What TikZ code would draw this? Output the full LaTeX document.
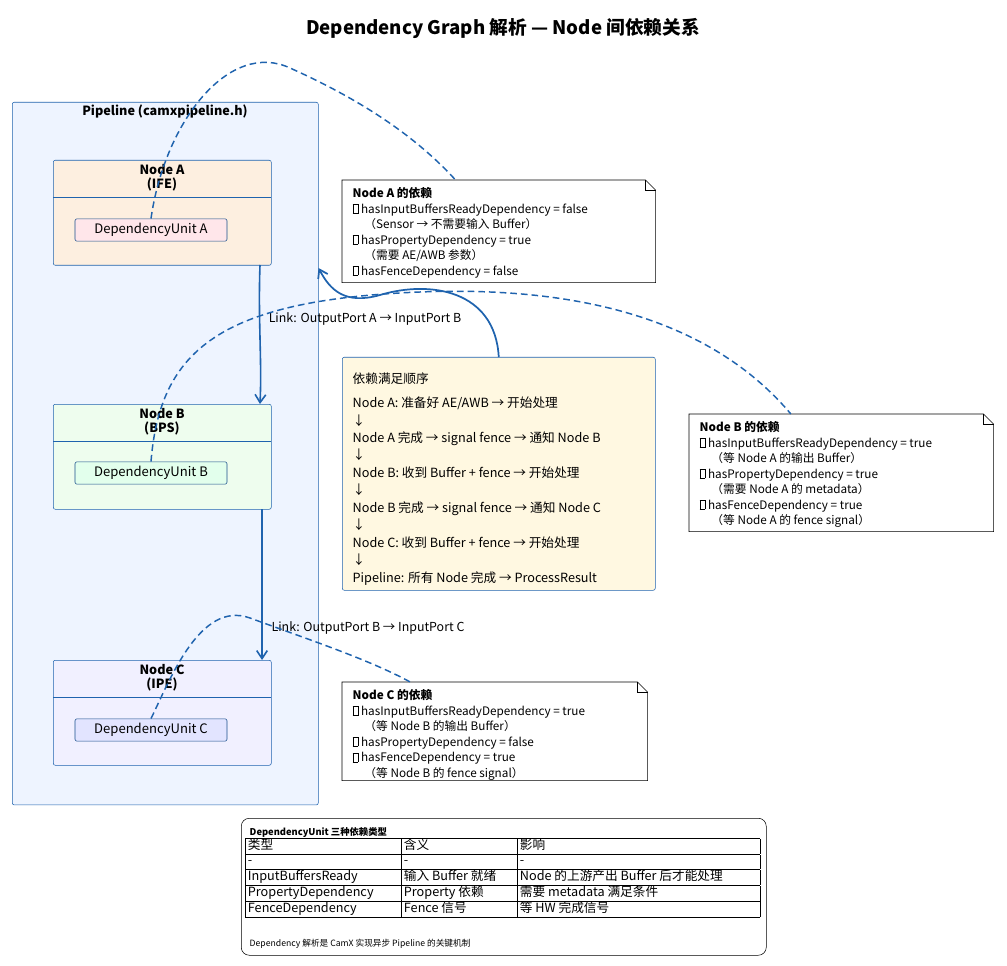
\documentclass[tikz,border=0pt]{standalone}
\usepackage{fontspec}
\setmainfont{Noto Sans CJK SC}
\usetikzlibrary{arrows.meta,positioning}
\definecolor{edgeblue}{HTML}{1F63AE}
\definecolor{pipefill}{HTML}{EEF4FF}
\definecolor{afill}{HTML}{FDEFE0}
\definecolor{bfill}{HTML}{EEFDEE}
\definecolor{cfill}{HTML}{F1F0FF}
\definecolor{aunit}{HTML}{FFE6EA}
\definecolor{bunit}{HTML}{E2FFEC}
\definecolor{cunit}{HTML}{E2E4FF}
\definecolor{yellowfill}{HTML}{FFF8E1}
\newcommand\missing{{\setlength\fboxsep{0pt}\setlength\fboxrule{0.4pt}\fbox{\vphantom{X}\hspace{3.5pt}}}}
\tikzset{
  nodebox/.style={draw=edgeblue, rounded corners=1.5pt, minimum width=163.5pt, minimum height=78.75pt, anchor=north west},
  unitbox/.style={draw=edgeblue!80!black, rounded corners=1.5pt, minimum width=114pt, minimum height=16.5pt, font=\fontsize{9.8}{11}\selectfont},
  notebox/.style={anchor=north west, inner sep=0pt},
  notetext/.style={anchor=north west, align=left, font=\fontsize{8.8}{11.6}\selectfont},
  link/.style={draw=edgeblue, line width=1.2pt, -{Straight Barb[length=6pt,width=8pt]}},
  dep/.style={draw=edgeblue, line width=1.1pt, dashed, dash pattern=on 5pt off 3pt},
}
\begin{document}
\begin{tikzpicture}[x=0.75pt,y=-0.75pt]
\useasboundingbox (0,0) rectangle (1007,966);
\node[font=\fontsize{14}{16}\bfseries] (title) at (503,28) {Dependency Graph 解析 — Node 间依赖关系};

% pipeline cluster
\node[draw=edgeblue, fill=pipefill, rounded corners=1.5pt, minimum width=229.5pt, minimum height=527pt, anchor=north west] (pipe) at (12,102) {};
\node[font=\fontsize{9.5}{11}\bfseries] (pipetitle) at (165,111) {Pipeline (camxpipeline.h)};

% nodes
\node[nodebox, fill=afill] (nA) at (53,160) {};
\node[font=\fontsize{9.5}{10.5}\bfseries, align=center] at (162,178) {Node A\\(IFE)};
\draw[edgeblue] (53,197) -- (271,197);
\node[unitbox, fill=aunit] (uA) at (151,230) {DependencyUnit A};

\node[nodebox, fill=bfill] (nB) at (53,404) {};
\node[font=\fontsize{9.5}{10.5}\bfseries, align=center] at (162,422) {Node B\\(BPS)};
\draw[edgeblue] (53,441) -- (271,441);
\node[unitbox, fill=bunit] (uB) at (151,473) {DependencyUnit B};

\node[nodebox, fill=cfill] (nC) at (53,660) {};
\node[font=\fontsize{9.5}{10.5}\bfseries, align=center] at (162,678) {Node C\\(IPE)};
\draw[edgeblue] (53,697) -- (271,697);
\node[unitbox, fill=cunit] (uC) at (151,730) {DependencyUnit C};

% links
\draw[link] (260,265) .. controls (258,320) and (262,360) .. (260,404);
\node[font=\fontsize{9.3}{10}\selectfont] (lAB) at (365,319) {Link: OutputPort A → InputPort B};
\draw[link] (262,509) .. controls (262,570) and (262,610) .. (262,660);
\node[font=\fontsize{9.3}{10}\selectfont] (lBC) at (368,628) {Link: OutputPort B → InputPort C};

% notes
\node[notebox, minimum width=234.75pt, minimum height=76.5pt] (noteA) at (342,180) {};
\draw[fill=white] (noteA.north west) -- ([xshift=-7.5pt]noteA.north east) -- ([yshift=-7.5pt]noteA.north east) -- (noteA.south east) -- (noteA.south west) -- cycle;
\draw ([xshift=-7.5pt]noteA.north east) |- ([yshift=-7.5pt]noteA.north east);
\node[notetext] at (348,183) {\textbf{Node A 的依赖}\\\missing{} hasInputBuffersReadyDependency = false\\\quad（Sensor → 不需要输入 Buffer）\\\missing{} hasPropertyDependency = true\\\quad（需要 AE/AWB 参数）\\\missing{} hasFenceDependency = false};

\node[notebox, minimum width=228pt, minimum height=87.75pt] (noteB) at (689,414) {};
\draw[fill=white] (noteB.north west) -- ([xshift=-7.5pt]noteB.north east) -- ([yshift=-7.5pt]noteB.north east) -- (noteB.south east) -- (noteB.south west) -- cycle;
\draw ([xshift=-7.5pt]noteB.north east) |- ([yshift=-7.5pt]noteB.north east);
\node[notetext] at (695,417) {\textbf{Node B 的依赖}\\\missing{} hasInputBuffersReadyDependency = true\\\quad（等 Node A 的输出 Buffer）\\\missing{} hasPropertyDependency = true\\\quad（需要 Node A 的 metadata）\\\missing{} hasFenceDependency = true\\\quad（等 Node A 的 fence signal）};

\node[notebox, minimum width=228.75pt, minimum height=73.5pt] (noteC) at (342,682) {};
\draw[fill=white] (noteC.north west) -- ([xshift=-7.5pt]noteC.north east) -- ([yshift=-7.5pt]noteC.north east) -- (noteC.south east) -- (noteC.south west) -- cycle;
\draw ([xshift=-7.5pt]noteC.north east) |- ([yshift=-7.5pt]noteC.north east);
\node[notetext] at (348,685) {\textbf{Node C 的依赖}\\\missing{} hasInputBuffersReadyDependency = true\\\quad（等 Node B 的输出 Buffer）\\\missing{} hasPropertyDependency = false\\\missing{} hasFenceDependency = true\\\quad（等 Node B 的 fence signal）};

% dashed note connectors
\draw[dep] (uA.north) .. controls (165,120) and (230,40) .. (290,68) .. controls (350,95) and (410,130) .. ([xshift=-150pt]noteA.north east);
\draw[dep] (uB.north) .. controls (160,350) and (220,300) .. (420,292) .. controls (600,285) and (720,330) .. ([xshift=-152pt]noteB.north east);
\draw[dep] (uC.north) .. controls (170,680) and (200,600) .. (250,618) .. controls (310,640) and (370,660) .. ([xshift=-178pt]noteC.north east);

% order box
\node[draw=edgeblue, fill=yellowfill, rounded corners=1.5pt, minimum width=234.75pt, minimum height=174.75pt, anchor=north west] (order) at (342,357) {};
\node[anchor=north west, align=left, font=\fontsize{9.5}{13.1}\selectfont] at (348,368) {依赖满足顺序\\[5pt]Node A: 准备好 AE/AWB → 开始处理\\↓\\Node A 完成 → signal fence → 通知 Node B\\↓\\Node B: 收到 Buffer + fence → 开始处理\\↓\\Node B 完成 → signal fence → 通知 Node C\\↓\\Node C: 收到 Buffer + fence → 开始处理\\↓\\Pipeline: 所有 Node 完成 → ProcessResult};
\draw[link, line width=1.3pt] (order.north) .. controls (495,290) and (430,280) .. (380,295) .. controls (345,305) and (330,290) .. (pipe.east |- 0,268);

% legend
\node[draw, rounded corners=6pt, minimum width=393.75pt, minimum height=102.75pt, anchor=north west] (legend) at (241,818) {};
\node[anchor=north west, font=\fontsize{7}{8}\bfseries] at (245,823) {DependencyUnit 三种依赖类型};
\node[anchor=north west, inner sep=0pt, font=\fontsize{9.5}{10}\selectfont] (table) at (245,838) {\setlength\tabcolsep{2pt}\renewcommand\arraystretch{1.12}\begin{tabular}{|p{113pt}|p{83pt}|p{178pt}|}\hline
类型 & 含义 & 影响\\\hline
- & - & -\\\hline
InputBuffersReady & 输入 Buffer 就绪 & Node 的上游产出 Buffer 后才能处理\\\hline
PropertyDependency & Property 依赖 & 需要 metadata 满足条件\\\hline
FenceDependency & Fence 信号 & 等 HW 完成信号\\\hline
\end{tabular}};
\node[anchor=west, font=\fontsize{6.5}{8}\selectfont] at (245,944) {Dependency 解析是 CamX 实现异步 Pipeline 的关键机制};
\end{tikzpicture}
\end{document}
